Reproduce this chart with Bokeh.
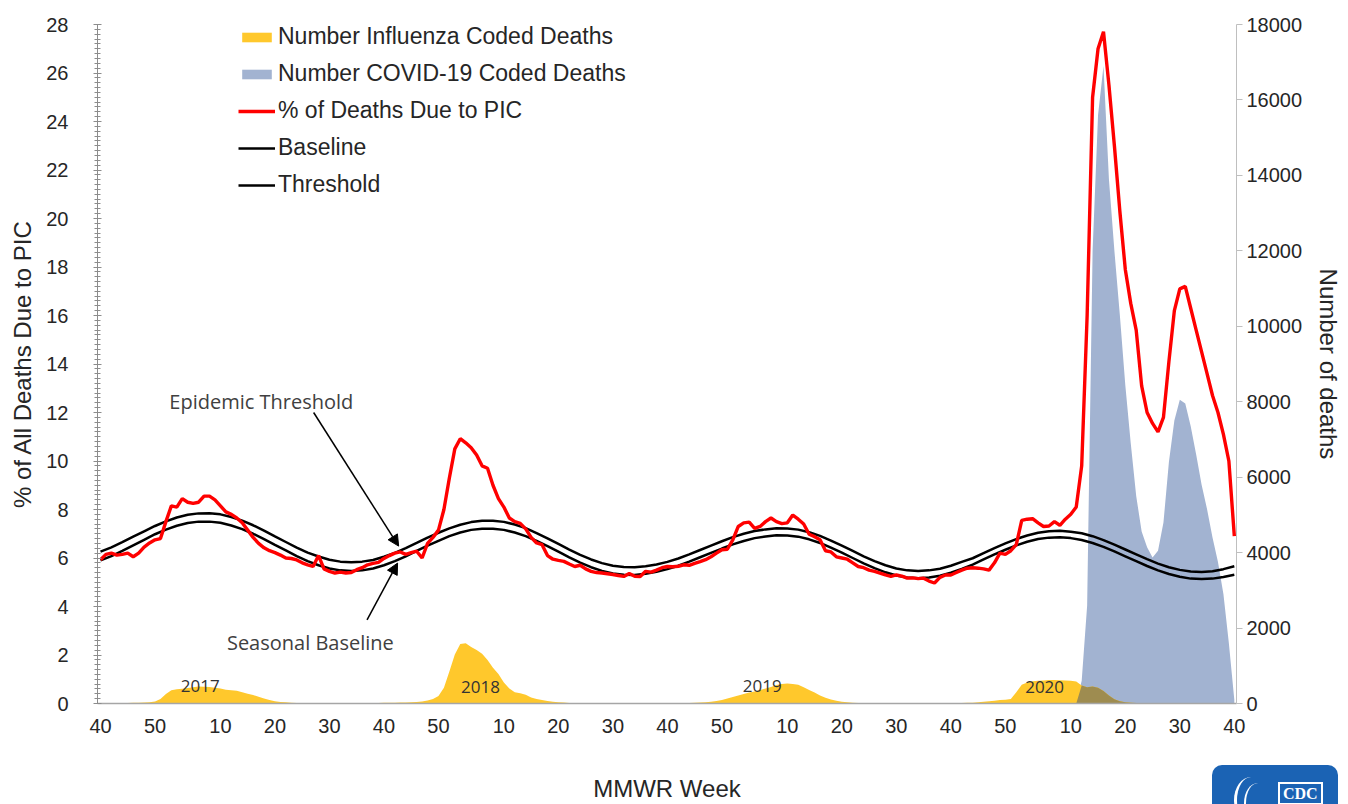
from bokeh.plotting import figure
from bokeh.models import (Range1d, LinearAxis, FixedTicker, Legend, LegendItem,
                          Arrow, NormalHead, Label, Div)
from bokeh.layouts import column
from bokeh.embed import file_html
from bokeh.resources import INLINE

# ---------------- data ----------------
# week index 0 = MMWR week 40 of 2016 ... 208 = MMWR week 40 of 2020
weeks = list(range(209))

tick_weeks = [0, 10, 22, 32, 42, 52, 62, 74, 84, 94, 104, 114, 126, 136, 146,
              156, 166, 178, 188, 198, 208]
tick_labels = ["40", "50", "10", "20", "30", "40", "50", "10", "20", "30", "40",
               "50", "10", "20", "30", "40", "50", "10", "20", "30", "40"]

pic_pct = [
    5.93, 6.15, 6.20, 6.12, 6.15, 6.20, 6.05, 6.20, 6.45, 6.62,
    6.75, 6.80, 7.50, 8.15, 8.10, 8.45, 8.30, 8.25, 8.30, 8.55,
    8.55, 8.40, 8.15, 7.90, 7.80, 7.65, 7.45, 7.15, 6.85, 6.60,
    6.42, 6.30, 6.22, 6.12, 6.00, 5.98, 5.92, 5.80, 5.72, 5.65,
    6.10, 5.55, 5.45, 5.38, 5.42, 5.38, 5.40, 5.52, 5.60, 5.72,
    5.78, 5.82, 5.98, 6.10, 6.20, 6.25, 6.15, 6.22, 6.28, 6.00,
    6.60, 6.85, 7.15, 8.00, 9.30, 10.50, 10.92, 10.75, 10.55, 10.25,
    9.80, 9.70, 9.00, 8.45, 8.10, 7.65, 7.50, 7.43, 7.20, 6.85,
    6.62, 6.55, 6.10, 5.95, 5.90, 5.86, 5.75, 5.65, 5.70, 5.55,
    5.45, 5.40, 5.38, 5.35, 5.32, 5.28, 5.24, 5.36, 5.25, 5.24,
    5.45, 5.42, 5.50, 5.60, 5.65, 5.64, 5.66, 5.72, 5.70, 5.78,
    5.85, 5.93, 6.05, 6.20, 6.34, 6.36, 6.75, 7.30, 7.45, 7.48,
    7.22, 7.30, 7.50, 7.65, 7.50, 7.42, 7.45, 7.77, 7.60, 7.40,
    6.98, 6.88, 6.75, 6.30, 6.25, 6.05, 6.00, 5.95, 5.80, 5.65,
    5.60, 5.50, 5.45, 5.38, 5.30, 5.24, 5.30, 5.25, 5.17, 5.18,
    5.15, 5.17, 5.05, 4.97, 5.20, 5.30, 5.30, 5.40, 5.50, 5.58,
    5.60, 5.58, 5.55, 5.50, 5.80, 6.20, 6.15, 6.30, 6.55, 7.55,
    7.60, 7.62, 7.45, 7.30, 7.32, 7.50, 7.35, 7.60, 7.80, 8.10,
    9.80, 16.00, 25.00, 27.00, 27.70, 25.50, 23.00, 20.30, 17.90, 16.50,
    15.40, 13.10, 12.00, 11.55, 11.20, 11.80, 14.10, 16.20, 17.10, 17.20,
    16.30, 15.40, 14.50, 13.60, 12.70, 12.00, 11.10, 10.00, 6.90,
]

# baseline / threshold read every second week
curve_weeks = list(range(0, 209, 2))
baseline_pct = [
    5.90, 6.08, 6.29, 6.52, 6.75, 6.98, 7.17, 7.33, 7.44, 7.50,
    7.50, 7.45, 7.34, 7.19, 7.00, 6.78, 6.54, 6.31, 6.08, 5.87,
    5.70, 5.57, 5.49, 5.46, 5.49, 5.57, 5.70, 5.87, 6.07, 6.29,
    6.51, 6.71, 6.90, 7.05, 7.16, 7.21, 7.21, 7.16, 7.05, 6.90,
    6.71, 6.49, 6.26, 6.03, 5.81, 5.62, 5.47, 5.36, 5.31, 5.30,
    5.35, 5.43, 5.54, 5.68, 5.85, 6.03, 6.21, 6.39, 6.56, 6.70,
    6.82, 6.89, 6.94, 6.93, 6.88, 6.77, 6.62, 6.43, 6.22, 6.00,
    5.78, 5.58, 5.41, 5.28, 5.20, 5.17, 5.20, 5.27, 5.39, 5.55,
    5.73, 5.94, 6.15, 6.34, 6.52, 6.67, 6.78, 6.84, 6.86, 6.82,
    6.74, 6.62, 6.46, 6.27, 6.07, 5.87, 5.67, 5.49, 5.34, 5.23,
    5.15, 5.13, 5.15, 5.22, 5.31,
]
threshold_pct = [
    6.26, 6.44, 6.65, 6.88, 7.10, 7.32, 7.51, 7.67, 7.78, 7.84,
    7.85, 7.80, 7.69, 7.54, 7.35, 7.13, 6.89, 6.66, 6.43, 6.22,
    6.06, 5.93, 5.85, 5.82, 5.85, 5.92, 6.05, 6.21, 6.41, 6.62,
    6.84, 7.04, 7.22, 7.37, 7.48, 7.54, 7.54, 7.49, 7.38, 7.23,
    7.03, 6.81, 6.58, 6.35, 6.13, 5.94, 5.79, 5.68, 5.63, 5.62,
    5.66, 5.73, 5.84, 5.98, 6.15, 6.33, 6.51, 6.69, 6.86, 7.00,
    7.11, 7.18, 7.23, 7.22, 7.17, 7.06, 6.91, 6.72, 6.51, 6.29,
    6.07, 5.87, 5.70, 5.57, 5.49, 5.46, 5.49, 5.56, 5.68, 5.84,
    5.99, 6.20, 6.41, 6.60, 6.78, 6.93, 7.04, 7.10, 7.12, 7.08,
    7.02, 6.90, 6.74, 6.55, 6.35, 6.15, 5.95, 5.77, 5.62, 5.51,
    5.44, 5.42, 5.45, 5.54, 5.66,
]

flu_deaths = [
    10, 10, 10, 10, 12, 15, 20, 20, 25, 30,
    50, 120, 250, 350, 380, 390, 410, 430, 450, 445,
    435, 420, 400, 365, 350, 340, 300, 260, 225, 180,
    135, 90, 60, 40, 30, 18, 12, 8, 8, 8,
    8, 8, 8, 8, 8, 8, 8, 8, 8, 8,
    10, 15, 20, 20, 20, 25, 25, 30, 40, 55,
    80, 120, 200, 420, 850, 1300, 1580, 1600, 1500, 1420,
    1320, 1150, 950, 780, 560, 400, 300, 270, 230, 160,
    120, 90, 65, 45, 35, 25, 16, 12, 8, 6,
    5, 5, 5, 5, 5, 5, 5, 5, 5, 5,
    5, 5, 5, 5, 8, 10, 12, 12, 15, 18,
    25, 35, 45, 65, 95, 130, 170, 215, 250, 290,
    320, 360, 395, 440, 490, 520, 530, 520, 500, 430,
    360, 290, 210, 150, 105, 75, 45, 30, 18, 10,
    6, 5, 5, 5, 5, 5, 5, 5, 5, 5,
    5, 5, 5, 5, 5, 8, 10, 12, 15, 18,
    22, 30, 45, 60, 75, 90, 100, 120, 300, 500,
    560, 590, 600, 610, 620, 620, 615, 610, 600, 580,
    480, 430, 450, 420, 330, 210, 110, 60, 35, 20,
    10, 5, 5, 5, 5, 5, 5, 5, 5, 5,
    5, 5, 5, 5, 5, 5, 5, 5, 5,
]

covid_deaths = [0] * 180 + [
    600, 2600, 12000, 15600, 16900, 13900, 12000, 10300, 8440, 6900,
    5500, 4560, 4140, 3870, 4050, 4800, 6400, 7500, 8050, 7950,
    7350, 6600, 5800, 5150, 4400, 3750, 2900, 1600, 100,
]

overlap_deaths = [min(f, c) for f, c in zip(flu_deaths, covid_deaths)]

season_labels = ["2017", "2018", "2019", "2020"]
season_label_x = [18.3, 69.7, 121.4, 173.2]
season_label_y = [0.74, 0.70, 0.74, 0.70]

# ---------------- figure ----------------
FONT = "Liberation Sans"
p = figure(width=1348, height=804, output_backend="svg", toolbar_location=None,
           x_range=Range1d(-0.55, 208.4), y_range=Range1d(0, 28),
           min_border_left=97, min_border_right=112, min_border_top=24,
           min_border_bottom=98)
p.extra_y_ranges = {"deaths": Range1d(0, 18000)}
p.grid.visible = False
p.outline_line_color = None
p.background_fill_color = "white"

# areas
r_covid = p.varea(x=weeks, y1=0, y2=covid_deaths, y_range_name="deaths",
                  fill_color="#A2B3D1")
r_flu = p.varea(x=weeks, y1=0, y2=flu_deaths, y_range_name="deaths",
                fill_color="#FFC82C")
p.varea(x=weeks, y1=0, y2=overlap_deaths, y_range_name="deaths",
        fill_color="#9E8C50")

# lines
r_base = p.line(curve_weeks, baseline_pct, line_color="black", line_width=2.5)
r_thr = p.line(curve_weeks, threshold_pct, line_color="black", line_width=2.5)
r_pic = p.line(weeks, pic_pct, line_color="#FF0000", line_width=3.4)

# ---------------- axes ----------------
left = p.yaxis[0]
left.ticker = FixedTicker(ticks=list(range(0, 29, 2)),
                          minor_ticks=[k / 5 for k in range(0, 141)])
left.axis_label = "% of All Deaths Due to PIC"
left.axis_line_color = "#8C8C8C"
left.major_tick_line_color = "#8C8C8C"
left.minor_tick_line_color = "#8C8C8C"
left.major_tick_in = 4
left.major_tick_out = 4
left.minor_tick_in = 3
left.minor_tick_out = 3
left.major_label_standoff = 25
left.axis_label_standoff = 7

right = LinearAxis(y_range_name="deaths",
                   ticker=FixedTicker(ticks=list(range(0, 18001, 2000))),
                   axis_label="Number of deaths")
p.add_layout(right, "right")
right.axis_line_color = "#BFBFBF"
right.major_tick_line_color = "#BFBFBF"
right.minor_tick_line_color = None
right.major_tick_in = 0
right.major_tick_out = 6
right.major_label_standoff = 4
right.axis_label_standoff = 10

bottom = p.xaxis[0]
bottom.ticker = FixedTicker(ticks=tick_weeks)
bottom.major_label_overrides = {w: l for w, l in zip(tick_weeks, tick_labels)}
bottom.axis_label = "MMWR Week"
bottom.axis_line_color = "#A6A6A6"
bottom.axis_line_width = 1.5
bottom.major_tick_line_color = None
bottom.minor_tick_line_color = None
bottom.major_tick_in = 0
bottom.major_tick_out = 0
bottom.major_label_standoff = 15
bottom.axis_label_standoff = 39

for ax in (left, right, bottom):
    ax.major_label_text_font = FONT
    ax.major_label_text_font_size = "20px"
    ax.major_label_text_color = "#262626"
    ax.axis_label_text_font = FONT
    ax.axis_label_text_font_size = "24px"
    ax.axis_label_text_font_style = "normal"
    ax.axis_label_text_color = "#262626"

# ---------------- legend ----------------
legend = Legend(items=[
    LegendItem(label="Number Influenza Coded Deaths", renderers=[r_flu]),
    LegendItem(label="Number COVID-19 Coded Deaths", renderers=[r_covid]),
    LegendItem(label="% of Deaths Due to PIC", renderers=[r_pic]),
    LegendItem(label="Baseline", renderers=[r_base]),
    LegendItem(label="Threshold", renderers=[r_thr]),
], location=(141, 505))
legend.border_line_color = None
legend.background_fill_alpha = 0
legend.padding = 0
legend.margin = 0
legend.glyph_width = 37
legend.glyph_height = 12
legend.label_standoff = 3
legend.spacing = 10
legend.label_text_font = FONT
legend.label_text_font_size = "23px"
legend.label_text_color = "#262626"
p.add_layout(legend)

# ---------------- annotations ----------------
ANN_FONT = "Open Sans"
p.add_layout(Label(x=29.5, y=12.44, text="Epidemic Threshold", text_align="center",
                   text_baseline="middle", text_font=ANN_FONT,
                   text_font_size="20px", text_color="#404040"))
p.add_layout(Label(x=38.5, y=2.5, text="Seasonal Baseline", text_align="center",
                   text_baseline="middle", text_font=ANN_FONT,
                   text_font_size="20px", text_color="#404040"))
p.add_layout(Arrow(x_start=39.1, y_start=12.0, x_end=54.7, y_end=6.49,
                   line_color="black", line_width=1.5,
                   end=NormalHead(size=11, fill_color="black", line_color="black")))
p.add_layout(Arrow(x_start=48.9, y_start=3.45, x_end=54.5, y_end=5.79,
                   line_color="black", line_width=1.5,
                   end=NormalHead(size=11, fill_color="black", line_color="black")))

for t, x, y in zip(season_labels, season_label_x, season_label_y):
    p.add_layout(Label(x=x, y=y, text=t, text_align="center", text_baseline="middle",
                       text_font=ANN_FONT, text_font_size="17px", text_color="#333333"))

# CDC badge, bottom right, overlaid on the page
badge = Div(
    text=("<div style='width:126px;height:44px;background:#1B63B4;"
          "border-radius:10px 10px 0 0;position:relative;overflow:hidden;'>"
          "<div style='position:absolute;left:22px;top:12px;width:34px;height:46px;"
          "border-left:3px solid white;border-radius:50%;'></div>"
          "<div style='position:absolute;left:32px;top:18px;width:28px;height:40px;"
          "border-left:2px solid white;border-radius:50%;'></div>"
          "<div style='position:absolute;left:66px;top:17px;padding:0 3px;"
          "border:2px solid white;color:white;font:bold 16px \"Liberation Serif\";"
          "line-height:19px;'>CDC</div></div>"),
    width=126, height=44,
    styles={"position": "absolute", "left": "1207px", "top": "760px",
            "z-index": "10"})

layout = column(p, badge)
open("out.html", "w").write(file_html(layout, INLINE))
